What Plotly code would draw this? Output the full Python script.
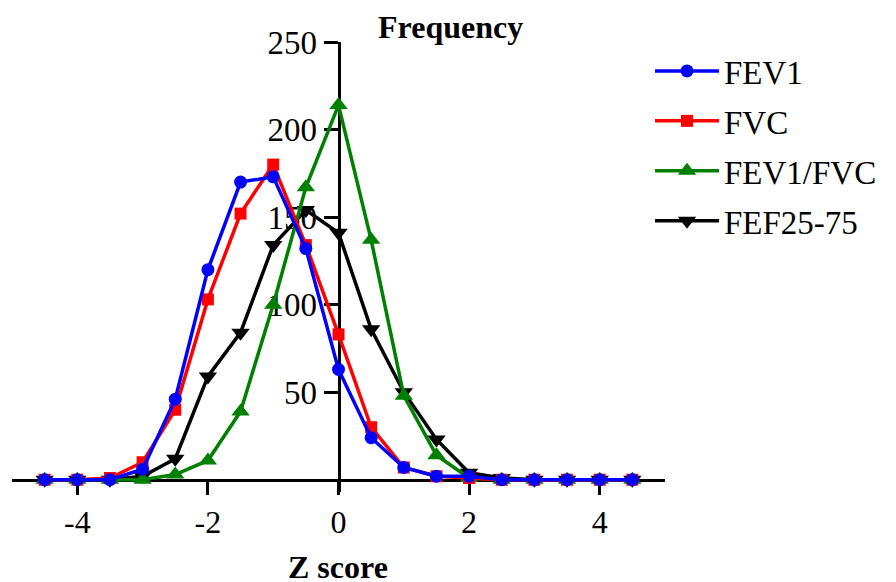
import plotly.graph_objects as go

# Z-score bins
z = [-4.5, -4.0, -3.5, -3.0, -2.5, -2.0, -1.5, -1.0, -0.5, 0.0,
     0.5, 1.0, 1.5, 2.0, 2.5, 3.0, 3.5, 4.0, 4.5]

fev1 = [0, 0, 0, 6, 46, 120, 170, 173, 132, 63,
        24, 7, 2, 2, 0, 0, 0, 0, 0]
fvc = [0, 0, 1, 10, 40, 103, 152, 180, 134, 83,
       30, 7, 2, 1, 0, 0, 0, 0, 0]
fev1_fvc = [0, 0, 0, 0, 3, 11, 39, 100, 167, 214,
            137, 48, 14, 1, 0, 0, 0, 0, 0]
fef2575 = [0, 0, 0, 2, 12, 59, 84, 134, 154, 141,
           86, 50, 23, 4, 1, 0, 0, 0, 0]

x_ticks = [-4, -2, 0, 2, 4]
y_ticks = [50, 100, 150, 200, 250]

X_RANGE = [-5, 5]
Y_RANGE = [-7, 250]

FONT = "Liberation Serif, Times New Roman, serif"

ML, MR, MT, MB = 12, 231, 42, 90
W, H = 896, 582
PW, PH = W - ML - MR, H - MT - MB

# (name, values, colour, marker, size, legend position)
series = [
    ("FEV1", fev1, "#0000ff", "circle", 13, 1),
    ("FVC", fvc, "#ff0000", "square", 12, 2),
    ("FEV1/FVC", fev1_fvc, "#008000", "triangle-up", 16, 3),
    ("FEF25-75", fef2575, "#000000", "triangle-down", 16, 4),
]

fig = go.Figure()
# draw the last series first so FEV1 ends up on top
for name, vals, color, symbol, size, rank in reversed(series):
    fig.add_trace(go.Scatter(
        x=z, y=vals, name=name, mode="lines+markers",
        legendgroup=name, legendrank=rank,
        line=dict(color=color, width=3.5),
        marker=dict(symbol=symbol, size=size, color=color, line=dict(width=0)),
    ))

# axes cross at the origin
x_pos = (0 - Y_RANGE[0]) / (Y_RANGE[1] - Y_RANGE[0])
y_pos = (0 - X_RANGE[0]) / (X_RANGE[1] - X_RANGE[0])


def px_to_paper(px, py):
    return (px - ML) / PW, 1 - (py - MT) / PH


fx, fy = px_to_paper(450, 27)
zx, zy = px_to_paper(338, 567)

fig.update_layout(
    width=W, height=H,
    margin=dict(l=ML, r=MR, t=MT, b=MB),
    paper_bgcolor="white", plot_bgcolor="white",
    font=dict(family=FONT, size=33, color="black"),
    showlegend=True,
    legend=dict(
        x=(650 - ML) / PW, y=1 - (43 - MT) / PH, xanchor="left", yanchor="top",
        font=dict(family=FONT, size=33, color="black"),
        bgcolor="rgba(0,0,0,0)", tracegroupgap=4, itemwidth=64,
        traceorder="grouped",
    ),
    xaxis=dict(
        range=X_RANGE, tickvals=x_ticks, ticktext=[str(v) for v in x_ticks],
        showgrid=False, zeroline=False, showline=True, linecolor="black",
        linewidth=3, ticks="outside", ticklen=13, tickwidth=3, tickcolor="black",
        anchor="free", position=x_pos, layer="below traces",
        tickfont=dict(family=FONT, size=32, color="black"),
    ),
    yaxis=dict(
        range=Y_RANGE, tickvals=y_ticks, ticktext=[str(v) for v in y_ticks],
        showgrid=False, zeroline=False, showline=True, linecolor="black",
        linewidth=3, ticks="outside", ticklen=14, tickwidth=3, tickcolor="black",
        anchor="free", position=y_pos, layer="below traces",
        tickfont=dict(family=FONT, size=33, color="black"),
    ),
    annotations=[
        dict(text="<b>Frequency</b>", x=fx, y=fy, xref="paper", yref="paper",
             xanchor="center", yanchor="middle", showarrow=False,
             font=dict(family=FONT, size=32, color="black")),
        dict(text="<b>Z score</b>", x=zx, y=zy, xref="paper", yref="paper",
             xanchor="center", yanchor="middle", showarrow=False,
             font=dict(family=FONT, size=32, color="black")),
    ],
)

fig.write_html("out.html")
